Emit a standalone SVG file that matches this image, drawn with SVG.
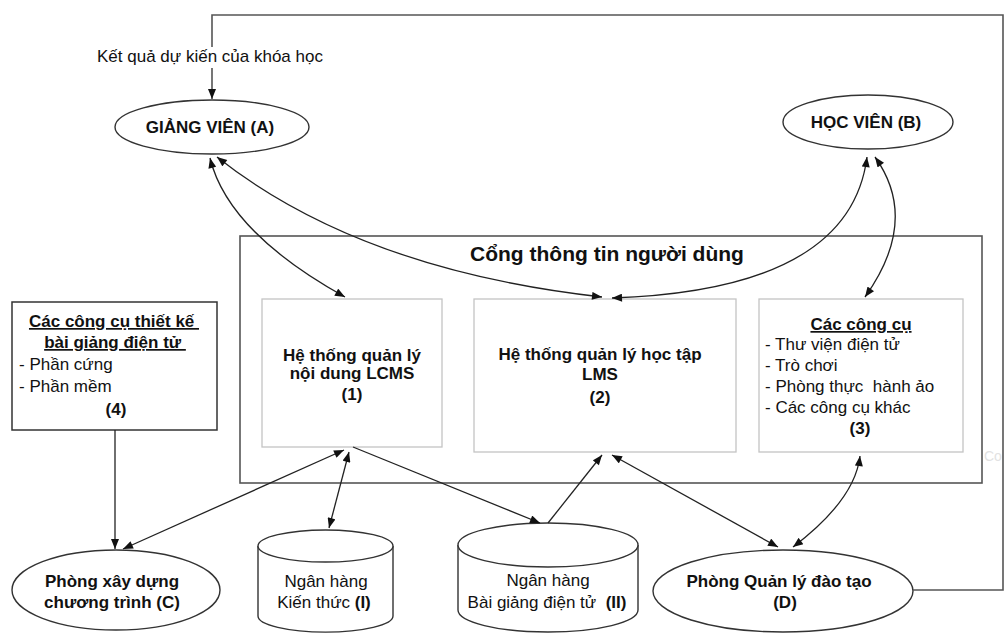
<svg xmlns="http://www.w3.org/2000/svg" width="1006" height="633" viewBox="0 0 1006 633">
<defs>
<style>
text{font-family:"Liberation Sans",Arial,sans-serif;font-size:17px;fill:#111}
.b{font-weight:bold}
.c{text-anchor:middle}
.u{text-decoration:underline}
.title{font-size:21px;font-weight:bold;text-anchor:middle}
.node{fill:#fff;stroke:#333;stroke-width:1.4}
.inner{fill:#fff;stroke:#c4c4c4;stroke-width:1.3}
.conn{fill:none;stroke:#222;stroke-width:1.3}
.loop{fill:none;stroke:#555;stroke-width:1.6}
</style>
<marker id="ah" viewBox="0 0 10 8" markerWidth="11" markerHeight="8" refX="10" refY="4" orient="auto-start-reverse" markerUnits="userSpaceOnUse">
<path d="M0,0 L10,4 L0,8 z" fill="#111"/>
</marker>
</defs>

<g id="portal">
<rect x="240" y="236" width="742" height="247" fill="none" stroke="#555" stroke-width="1.6"/>
<text class="title" x="607" y="261">Cổng thông tin người dùng</text>
</g>

<g id="lcms">
<rect class="inner" x="262" y="299" width="180" height="148"/>
<text class="b c" x="352" y="361">Hệ thống quản lý</text>
<text class="b c" x="352" y="379">nội dung LCMS</text>
<text class="b c" x="352" y="400">(1)</text>
</g>

<g id="lms">
<rect class="inner" x="474" y="299" width="262" height="153"/>
<text class="b c" x="600" y="360">Hệ thống quản lý học tập</text>
<text class="b c" x="600" y="380">LMS</text>
<text class="b c" x="600" y="403">(2)</text>
</g>

<g id="tools">
<rect class="inner" x="759" y="299" width="204" height="153"/>
<text class="b c u" x="861" y="330">Các công cụ</text>
<text x="765" y="350">- Thư viện điện tử</text>
<text x="765" y="371">- Trò chơi</text>
<text x="765" y="392" xml:space="preserve">- Phòng thực  hành ảo</text>
<text x="765" y="413">- Các công cụ khác</text>
<text class="b c" x="860" y="434">(3)</text>
</g>

<g id="design-tools">
<rect x="12" y="302" width="205" height="128" fill="#fff" stroke="#333" stroke-width="1.5"/>
<text class="b c u" x="114" y="327" xml:space="preserve">Các công cụ thiết kế </text>
<text class="b c u" x="115" y="348" xml:space="preserve">bài giảng điện tử </text>
<text x="19" y="370">- Phần cứng</text>
<text x="19" y="392">- Phần mềm</text>
<text class="b c" x="116" y="415">(4)</text>
</g>

<g id="teacher">
<ellipse class="node" cx="212" cy="127" rx="97" ry="27"/>
<text class="b c" x="210" y="133">GIẢNG VIÊN (A)</text>
</g>

<g id="learner">
<ellipse class="node" cx="868" cy="122" rx="85" ry="27"/>
<text class="b c" x="866" y="128">HỌC VIÊN (B)</text>
</g>

<g id="curriculum">
<ellipse class="node" cx="116" cy="590" rx="104" ry="40"/>
<text class="b c" x="112" y="587">Phòng xây dựng</text>
<text class="b c" x="112" y="608">chương trình (C)</text>
</g>

<g id="training">
<ellipse class="node" cx="783" cy="591" rx="130" ry="41"/>
<text class="b c" x="779" y="587">Phòng Quản lý đào tạo</text>
<text class="b c" x="785" y="608">(D)</text>
</g>

<g id="bank1">
<path class="node" d="M258,546 V616 A67,16 0 0 0 393,616 V546"/>
<ellipse class="node" cx="325.5" cy="546" rx="67.5" ry="16"/>
<text class="c" x="326" y="587">Ngân hàng</text>
<text class="c" x="324" y="608">Kiến thức <tspan class="b">(I)</tspan></text>
</g>

<g id="bank2">
<path class="node" d="M458,545 V610 A90,22 0 0 0 638,610 V545"/>
<ellipse class="node" cx="548" cy="545" rx="90" ry="22"/>
<text class="c" x="548" y="586">Ngân hàng</text>
<text class="c" x="547" y="608" xml:space="preserve">Bài giảng điện tử  <tspan class="b">(II)</tspan></text>
</g>

<g id="connectors">
<path class="loop" d="M913,590 H1003 V15 H212 V99" marker-end="url(#ah)"/>
<path class="conn" d="M210,158 Q228,232 345,297" marker-start="url(#ah)" marker-end="url(#ah)"/>
<path class="conn" d="M217,157 Q360,270 602,297" marker-start="url(#ah)" marker-end="url(#ah)"/>
<path class="conn" d="M867,157 Q850,290 612,298" marker-start="url(#ah)" marker-end="url(#ah)"/>
<path class="conn" d="M875,157 Q920,220 865,297" marker-start="url(#ah)" marker-end="url(#ah)"/>
<path class="conn" d="M115,430 L115,549" marker-end="url(#ah)"/>
<path class="conn" d="M123,549 L344,450" marker-start="url(#ah)" marker-end="url(#ah)"/>
<path class="conn" d="M349,452 L329,528" marker-start="url(#ah)" marker-end="url(#ah)"/>
<path class="conn" d="M353,447 L540,523" marker-end="url(#ah)"/>
<path class="conn" d="M548,523 L602,455" marker-end="url(#ah)"/>
<path class="conn" d="M612,455 L778,547" marker-start="url(#ah)" marker-end="url(#ah)"/>
<path class="conn" d="M793,547 Q855,500 860,456" marker-start="url(#ah)" marker-end="url(#ah)"/>
</g>

<g id="label">
<rect x="90" y="47" width="242" height="21" fill="#fff"/>
<text class="c" x="210" y="62">Kết quả dự kiến của khóa học</text>
</g>

<text x="984" y="461" style="fill:#e2e2e2;font-size:14px">Co</text>
</svg>
